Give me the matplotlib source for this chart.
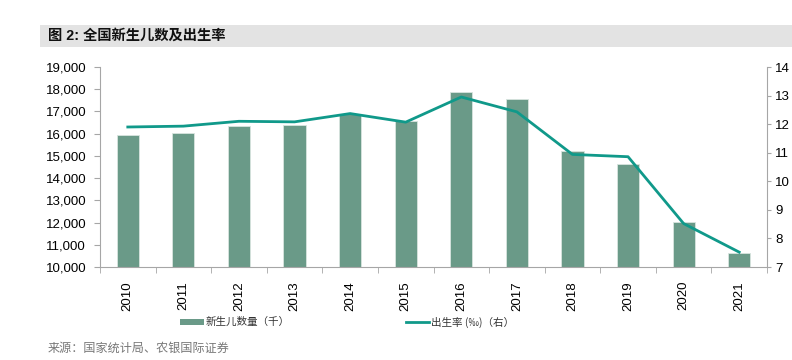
import matplotlib
matplotlib.use("Agg")
import matplotlib.pyplot as plt
from matplotlib.patches import Rectangle
from matplotlib.lines import Line2D
import numpy as np

years = ["2010", "2011", "2012", "2013", "2014", "2015", "2016", "2017", "2018", "2019", "2020", "2021"]
births_k = [15920, 16040, 16350, 16400, 16900, 16550, 17860, 17580, 15230, 14650, 12020, 10620]
birth_rate = [11.90, 11.93, 12.10, 12.08, 12.37, 12.07, 12.95, 12.43, 10.94, 10.86, 8.52, 7.52]

title = "图 2: 全国新生儿数及出生率"
source = "来源：国家统计局、农银国际证券"
bar_label = "新生儿数量（千）"
line_label = "出生率 (‰)（右）"

plt.rcParams['font.family'] = ['Liberation Sans', 'Noto Sans CJK SC', 'DejaVu Sans']
cjk = ['Noto Sans CJK SC', 'DejaVu Sans']

W, H = 792, 360
fig = plt.figure(figsize=(W/100, H/100), dpi=100)

bar_color = "#6a9a88"
line_color = "#10998a"
spine_color = "#a6a6a6"

# title band
fig.patches.append(Rectangle((40/W, 1-47/H), (W-40)/W, 22/H, transform=fig.transFigure,
                             facecolor="#e3e3e3", edgecolor="none", zorder=0))
fig.text(48/W, 1-36/H, title, family=['Liberation Sans', 'Noto Sans CJK SC'], fontsize=10.3,
         fontweight='bold', va='center', ha='left', color="#111111")

ax = fig.add_axes([100/W, 1-267/H, 667/W, 200/H])
x = np.arange(len(years))
ax.bar(x, births_k, width=0.4, color=bar_color, edgecolor="#d8e4df", linewidth=0.6, zorder=2)
ax.set_ylim(10000, 19000)
ax.set_xlim(-0.5, len(years)-0.5)
ax.set_yticks(np.arange(10000, 19001, 1000))
ax.set_yticklabels([f"{v:,}" for v in range(10000, 19001, 1000)], fontsize=9.5)
ax.set_xticks(x)
ax.set_xticklabels(years, rotation=90, fontsize=9.5)
ax.tick_params(axis='x', length=0, pad=10)
ax.set_xticks(np.arange(-0.5, len(years), 1), minor=True)
ax.tick_params(axis='x', which='minor', length=4, color=spine_color, direction='out')
ax.tick_params(axis='y', length=4, color=spine_color, direction='out', pad=6)
for s in ['top', 'right']:
    ax.spines[s].set_visible(False)
for s in ['left', 'bottom']:
    ax.spines[s].set_color(spine_color)

ax2 = ax.twinx()
ax2.plot(x, birth_rate, color=line_color, linewidth=2, zorder=3)
ax2.set_ylim(7, 14)
ax2.set_yticks(range(7, 15))
ax2.set_yticklabels([str(v) for v in range(7, 15)], fontsize=9.5)
ax2.tick_params(axis='y', length=3, color=spine_color, direction='out', pad=3)
for s in ['top', 'left', 'bottom']:
    ax2.spines[s].set_visible(False)
ax2.spines['right'].set_color(spine_color)

# legend
fig.patches.append(Rectangle((180/W, 1-325/H), 24/W, 6/H, transform=fig.transFigure,
                             facecolor=bar_color, edgecolor='none'))
fig.text(206/W, 1-322/H, bar_label, family=cjk, fontsize=7.6, va='center', ha='left', color="#333333")
fig.lines.append(Line2D([406/W, 429/W], [1-322/H, 1-322/H], transform=fig.transFigure,
                        color=line_color, linewidth=2))
fig.text(431/W, 1-322/H, line_label, family=cjk, fontsize=7.6, va='center', ha='left', color="#333333")

fig.text(48/W, 1-348/H, source, family=cjk, fontsize=8.7, va='center', ha='left', color="#777777")

fig.savefig("out.png", dpi=100)
